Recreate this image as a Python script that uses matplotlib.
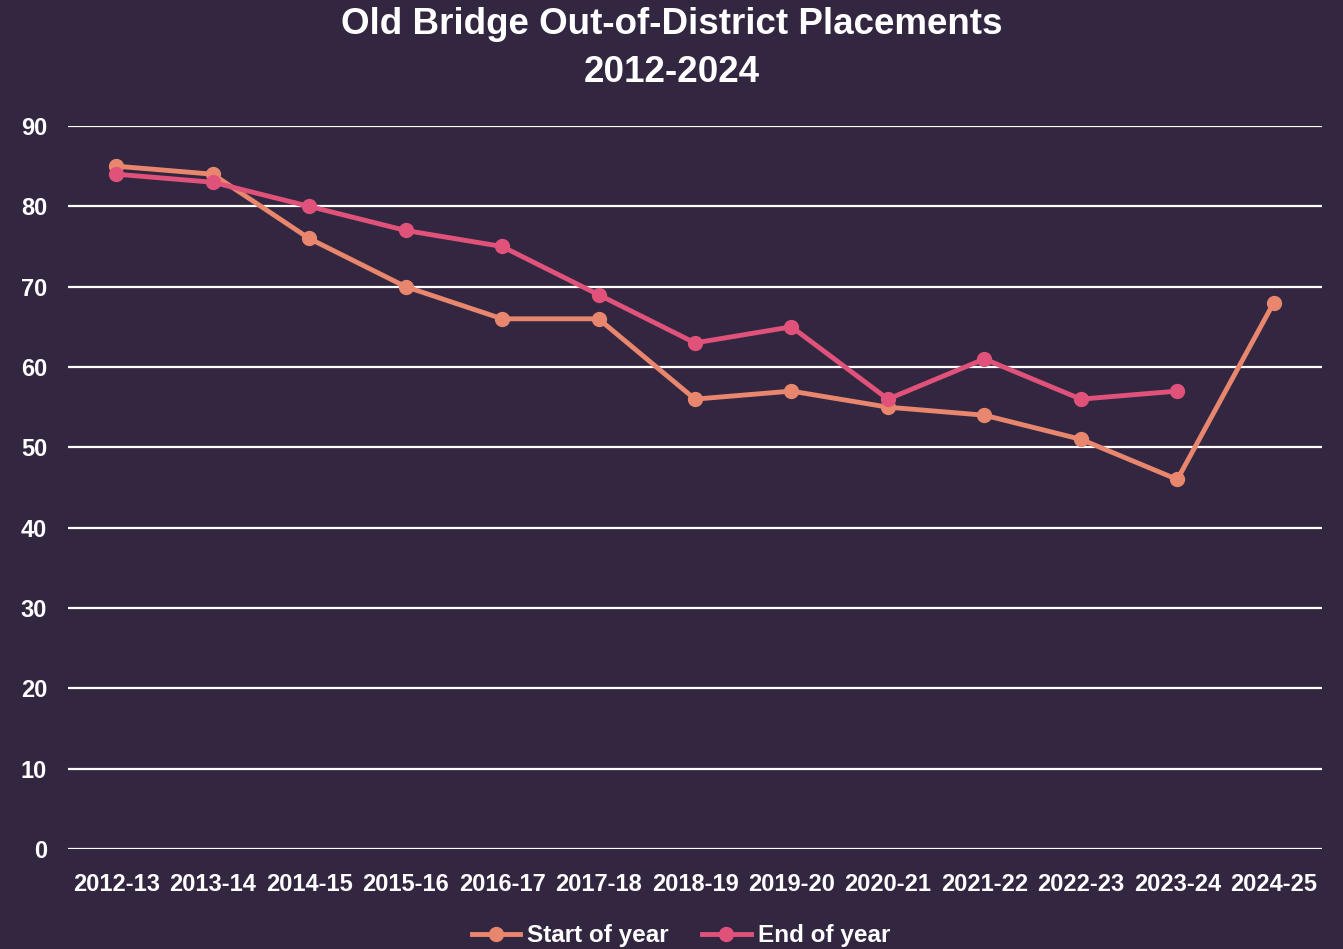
import numpy as np
import matplotlib.pyplot as plt

# === Data ===
years = ["2012-13", "2013-14", "2014-15", "2015-16", "2016-17", "2017-18", "2018-19",
         "2019-20", "2020-21", "2021-22", "2022-23", "2023-24", "2024-25"]
start_of_year = [85, 84, 76, 70, 66, 66, 56, 57, 55, 54, 51, 46, 68]
end_of_year = [84, 83, 80, 77, 75, 69, 63, 65, 56, 61, 56, 57, np.nan]

BG = "#332641"
START_COLOR = "#E8866E"
END_COLOR = "#E0527A"

plt.rcParams['font.family'] = ['Liberation Sans', 'DejaVu Sans']
plt.rcParams['font.weight'] = 'bold'

fig = plt.figure(figsize=(13.43, 9.49), dpi=100, facecolor=BG)
ax = fig.add_axes([68 / 1343, 1 - 849 / 949, (1322 - 68) / 1343, (849 - 126) / 949])
ax.set_facecolor(BG)

x = np.arange(len(years))
ax.plot(x, start_of_year, color=START_COLOR, lw=3.5, marker='o', ms=10,
        label="Start of year", zorder=3)
ax.plot(x, end_of_year, color=END_COLOR, lw=3.5, marker='o', ms=10,
        label="End of year", zorder=4)

ax.set_xlim(-0.5, len(years) - 0.5)
ax.set_ylim(0, 90)
ax.set_yticks(range(0, 91, 10))
ax.set_xticks(x)
ax.set_xticklabels(years)
ax.grid(axis='y', color='white', lw=1.6, zorder=1)
ax.set_axisbelow(True)
for s in ax.spines.values():
    s.set_visible(False)
ax.tick_params(length=0, colors='white', labelsize=17)
ax.tick_params(axis='y', pad=15)
ax.tick_params(axis='x', pad=17)
for lab in ax.get_xticklabels() + ax.get_yticklabels():
    lab.set_fontweight('bold')

fig.text(0.5, 0.993, "Old Bridge Out-of-District Placements\n2012-2024", ha='center', va='top',
         color='white', fontsize=26.5, fontweight='bold', linespacing=1.5)

leg = fig.legend(loc='center', bbox_to_anchor=(0.507, 0.014), ncol=2, frameon=False,
                 fontsize=17.5, handlelength=2.0, columnspacing=1.35, handletextpad=0.3)
for t in leg.get_texts():
    t.set_color('white')
    t.set_fontweight('bold')

plt.savefig("out.png", dpi=100, facecolor=BG)
